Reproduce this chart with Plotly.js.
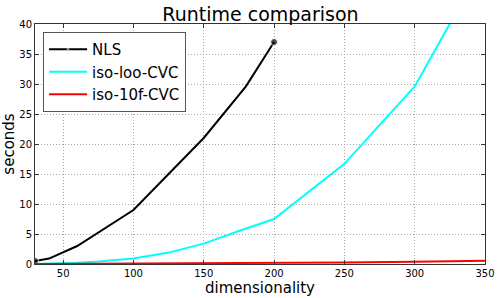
<!DOCTYPE html>
<html>
<head>
<meta charset="utf-8">
<script src="https://cdn.plot.ly/plotly-3.0.1.min.js"></script>
<style>html,body{margin:0;padding:0;background:#fff;}#chart{width:499px;height:298px;}</style>
</head>
<body>
<div id="chart"></div>
<script>
// Data
const nlsX = [30, 40, 60, 100, 125, 150, 180, 200];
const nlsY = [0.5, 0.9, 3.0, 9.0, 15.0, 21.0, 29.6, 37.0];

const looX = [30, 40, 50, 60, 75, 100, 125, 150, 175, 200, 250, 300, 350];
const looY = [0.02, 0.05, 0.1, 0.2, 0.4, 0.9, 1.9, 3.4, 5.5, 7.5, 16.7, 29.6, 50.5];

const tenfX = [30, 50, 100, 150, 200, 250, 300, 350];
const tenfY = [0.02, 0.03, 0.06, 0.1, 0.15, 0.25, 0.38, 0.55];

const seriesNames = ["NLS", "iso-loo-CVC", "iso-10f-CVC"];
const xTicks = [50, 100, 150, 200, 250, 300, 350];
const yTicks = [0, 5, 10, 15, 20, 25, 30, 35, 40];

const font = "DejaVu Sans, sans-serif";
const endSizes = nlsX.map((_, i) => (i === 0 || i === nlsX.length - 1) ? 7 : 0);

const traces = [
  {x: nlsX, y: nlsY, name: seriesNames[0], mode: "lines+markers",
   line: {color: "#000000", width: 2}, marker: {color: "#000000", size: endSizes}},
  {x: looX, y: looY, name: seriesNames[1], mode: "lines",
   line: {color: "#00ffff", width: 2}},
  {x: tenfX, y: tenfY, name: seriesNames[2], mode: "lines",
   line: {color: "#ff0000", width: 2}}
];

const axisCommon = {
  showline: true, mirror: "allticks", linecolor: "#333", linewidth: 1,
  ticks: "inside", ticklen: 4, tickcolor: "#333",
  showgrid: true, gridcolor: "#a8a8a8", griddash: "1px,2px", gridwidth: 1,
  zeroline: false, tickfont: {family: font, size: 10, color: "#000"}
};

const layout = {
  width: 499, height: 298,
  margin: {l: 35, r: 14, t: 24, b: 34},
  paper_bgcolor: "#fff", plot_bgcolor: "#fff",
  font: {family: font, color: "#000"},
  title: {text: "Runtime comparison", font: {family: font, size: 19, color: "#000"},
          x: 0.522, xanchor: "center", y: 0.975, yanchor: "top"},
  xaxis: Object.assign({}, axisCommon, {
    range: [30, 350], tickvals: xTicks, ticktext: xTicks.map(String),
    title: {text: "dimensionality", font: {family: font, size: 15}, standoff: 2}
  }),
  yaxis: Object.assign({}, axisCommon, {
    range: [0, 40], tickvals: yTicks, ticktext: yTicks.map(String),
    title: {text: "seconds", font: {family: font, size: 15}, standoff: 4}
  }),
  showlegend: true,
  legend: {x: 0.018, y: 0.967, xanchor: "left", yanchor: "top",
           bgcolor: "#fff", bordercolor: "#555", borderwidth: 1,
           font: {family: font, size: 15, color: "#000"}, itemwidth: 38,
           tracegroupgap: 0}
};

Plotly.newPlot("chart", traces, layout, {displayModeBar: false, staticPlot: true});
</script>
</body>
</html>
